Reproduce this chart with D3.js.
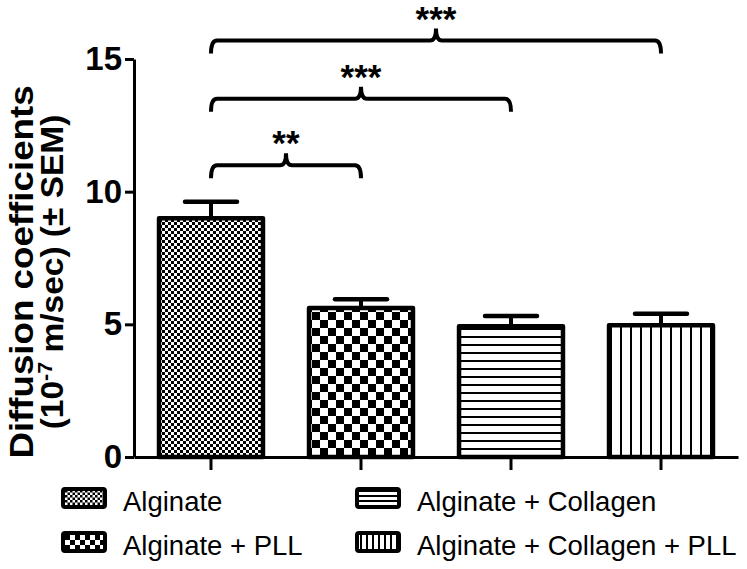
<!DOCTYPE html>
<html><head><meta charset="utf-8">
<script src="https://cdn.jsdelivr.net/npm/d3@7"></script>
<style>html,body{margin:0;padding:0;background:#fff;}svg{display:block;font-family:"Liberation Sans",Arial,sans-serif;}</style>
</head><body><div id="chart"></div>
<script>
const categories = ["Alginate", "Alginate + PLL", "Alginate + Collagen", "Alginate + Collagen + PLL"];
const means = [9.0, 5.62, 4.93, 4.97];
const sems = [0.62, 0.33, 0.38, 0.43];
const yTicks = [0, 5, 10, 15];
const patterns = ["fineCheck", "coarseCheck", "hLines", "vLines"];
const comparisons = [
  {from: 0, to: 1, label: "**", level: 11.0},
  {from: 0, to: 2, label: "***", level: 13.5},
  {from: 0, to: 3, label: "***", level: 15.7}
];

const W = 747, H = 569;
const svg = d3.select("#chart").append("svg").attr("width", W).attr("height", H);
const defs = svg.append("defs");

function checker(id, c) {
  const p = defs.append("pattern").attr("id", id).attr("patternUnits", "userSpaceOnUse")
    .attr("width", 2*c).attr("height", 2*c);
  p.append("rect").attr("width", 2*c).attr("height", 2*c).attr("fill", "#fff");
  p.append("rect").attr("width", c).attr("height", c).attr("fill", "#000");
  p.append("rect").attr("x", c).attr("y", c).attr("width", c).attr("height", c).attr("fill", "#000");
}
function lines(id, s, vertical) {
  const p = defs.append("pattern").attr("id", id).attr("patternUnits", "userSpaceOnUse")
    .attr("width", s).attr("height", s);
  p.append("rect").attr("width", s).attr("height", s).attr("fill", "#fff");
  if (vertical) p.append("rect").attr("x", 0).attr("width", 2).attr("height", s).attr("fill", "#000");
  else p.append("rect").attr("y", 0).attr("height", 2).attr("width", s).attr("fill", "#000");
}
checker("fineCheck", 3);
checker("coarseCheck", 8);
lines("hLines", 8, false);
lines("vLines", 10, true);
checker("fineCheckL", 2.5);
checker("coarseCheckL", 5);
lines("hLinesL", 5, false);
lines("vLinesL", 6, true);

const x = d3.scaleBand().domain(categories).range([134, 738]).paddingInner(0.307).paddingOuter(0.1668);
const y = d3.scaleLinear().domain([0, 15]).range([457, 59]);

// error bars
const eb = svg.append("g");
categories.forEach((c, i) => {
  const cx = x(c) + x.bandwidth()/2;
  eb.append("line").attr("x1", cx).attr("x2", cx).attr("y1", y(means[i])).attr("y2", y(means[i]+sems[i]))
    .attr("stroke", "#000").attr("stroke-width", 4);
  eb.append("line").attr("x1", cx - 26).attr("x2", cx + 26).attr("y1", y(means[i]+sems[i])).attr("y2", y(means[i]+sems[i]))
    .attr("stroke", "#000").attr("stroke-width", 4.5).attr("stroke-linecap", "round");
});

// bars
svg.append("g").selectAll("rect").data(categories).join("rect")
  .attr("x", d => x(d)).attr("width", x.bandwidth())
  .attr("y", (d, i) => y(means[i])).attr("height", (d, i) => y(0) - y(means[i]))
  .attr("fill", (d, i) => `url(#${patterns[i]})`)
  .attr("stroke", "#000").attr("stroke-width", 4.5).attr("stroke-linejoin", "round");

// axes
const ya = svg.append("g").attr("transform", "translate(134,0)")
  .call(d3.axisLeft(y).tickValues(yTicks).tickSize(9).tickSizeOuter(0).tickPadding(3));
ya.select(".domain").attr("stroke-width", 3);
ya.selectAll(".tick line").attr("stroke-width", 3);
ya.selectAll(".tick text").attr("font-size", 33).attr("font-weight", "bold").attr("fill", "#000")
  .attr("font-family", "Liberation Sans, Arial, sans-serif");

const xa = svg.append("g").attr("transform", "translate(0,457)")
  .call(d3.axisBottom(x).tickSize(13).tickSizeOuter(0).tickFormat(""));
xa.select(".domain").attr("stroke-width", 3);
xa.selectAll(".tick line").attr("stroke-width", 3);

// brackets
const bg = svg.append("g");
comparisons.forEach(cmp => {
  const x1 = x(categories[cmp.from]) + x.bandwidth()/2;
  const x2 = x(categories[cmp.to]) + x.bandwidth()/2;
  const yl = y(cmp.level);
  const drop = 13, r = 6, tip = 12;
  const mid = (x1 + x2)/2;
  const path = `M${x1},${yl+drop} Q${x1},${yl} ${x1+r},${yl} L${mid-r},${yl} Q${mid},${yl} ${mid},${yl-tip} Q${mid},${yl} ${mid+r},${yl} L${x2-r},${yl} Q${x2},${yl} ${x2},${yl+drop}`;
  bg.append("path").attr("d", path).attr("fill", "none").attr("stroke", "#000").attr("stroke-width", 4);
  bg.append("text").attr("x", mid).attr("y", yl - tip - 8 + 0.3*34).attr("text-anchor", "middle")
    .attr("font-size", 35).attr("font-weight", "bold").text(cmp.label);
});

// y title
const tg = svg.append("g");
tg.append("text").attr("transform", "translate(33,272) rotate(-90) scale(1.08,1)").attr("text-anchor", "middle")
  .attr("font-size", 34).attr("font-weight", "bold").text("Diffusion coefficients");
const t2 = tg.append("text").attr("transform", "translate(63,272) rotate(-90) scale(1.08,1)").attr("text-anchor", "middle")
  .attr("font-size", 31).attr("font-weight", "bold");
t2.append("tspan").text("(10");
t2.append("tspan").attr("font-size", 20).attr("dy", -11).text("-7");
t2.append("tspan").attr("dy", 11).text(" m/sec) (± SEM)");

// legend
const legendPatterns = ["fineCheckL", "coarseCheckL", "hLinesL", "vLinesL"];
const legendPos = [[63, 489], [63, 533], [357, 489], [357, 533]];
const lg = svg.append("g");
categories.forEach((c, i) => {
  const [lx, ly] = legendPos[i];
  lg.append("rect").attr("x", lx).attr("y", ly).attr("width", 42).attr("height", 18).attr("rx", 2)
    .attr("fill", `url(#${legendPatterns[i]})`).attr("stroke", "#000").attr("stroke-width", 4);
  lg.append("text").attr("x", lx + 60).attr("y", ly + 22).attr("font-size", 27.5).text(c);
});
</script></body></html>
